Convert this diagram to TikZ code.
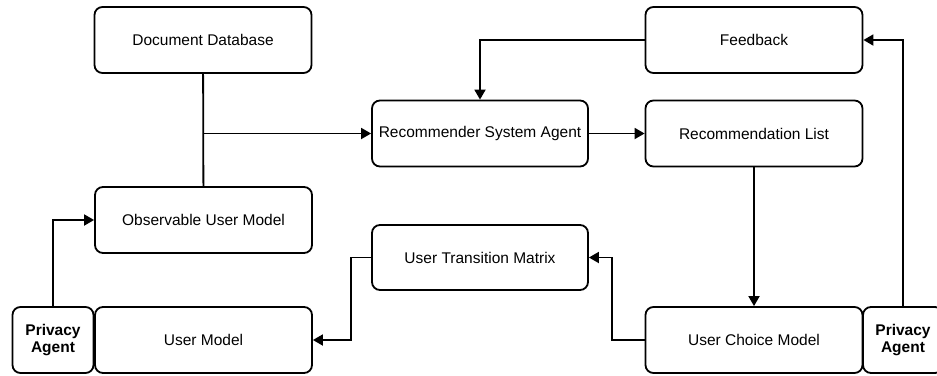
\documentclass[tikz,border=0pt]{standalone}
\usepackage{fontspec}
\setmainfont{Liberation Sans}
\usetikzlibrary{arrows.meta}

\begin{document}
\begin{tikzpicture}[x=1pt, y=-1pt,
	box/.style={draw, rounded corners=8pt, line width=1.8pt, minimum width=217pt, minimum height=66pt, font=\fontsize{15.5}{18}\selectfont},
	agent/.style={box, minimum width=81pt, align=center, font=\fontsize{15.5}{17}\selectfont\bfseries},
	ln/.style={line width=1.8pt},
	arr/.style={ln, -{Triangle[length=10pt, width=11pt]}}]
	\useasboundingbox (0,0) rectangle (937,375);
	\node (dd) [box] at (203, 40) {Document Database};
	\node (oum) [box] at (203.5, 220) {Observable User Model};
	\node (um) [box] at (203.5, 340) {User Model};
	\node (pa1) [agent] at (53, 340) {Privacy\\Agent};
	\node (rsa) [box, minimum width=216pt] at (480, 133.5) {Recommender System Agent};
	\node (utm) [box, minimum width=216pt, minimum height=65pt] at (480, 257.5) {User Transition Matrix};
	\node (fb) [box] at (754, 40) {Feedback};
	\node (rl) [box] at (754, 133.5) {Recommendation List};
	\node (ucm) [box] at (754, 340) {User Choice Model};
	\node (pa2) [agent, minimum width=80pt] at (903, 340) {Privacy\\Agent};
	\coordinate (br) at (203, 133.5);
	\coordinate (c1) at (612, 257.5);
	\coordinate (c2) at (351, 340);
	\draw[ln] (dd) -- (oum);
	\draw[arr] (br) -- (rsa.west);
	\draw[arr] (rsa) -- (rl);
	\draw[arr] (fb.west) -| (rsa.north);
	\draw[arr] (pa2.north) |- (fb.east);
	\draw[arr] (rl) -- (ucm);
	\draw[arr] (ucm.west) -| (c1) -- (utm.east);
	\draw[arr] (utm.west) -| (c2) -- (um.east);
	\draw[arr] (pa1.north) |- (oum.west);
\end{tikzpicture}
\end{document}
